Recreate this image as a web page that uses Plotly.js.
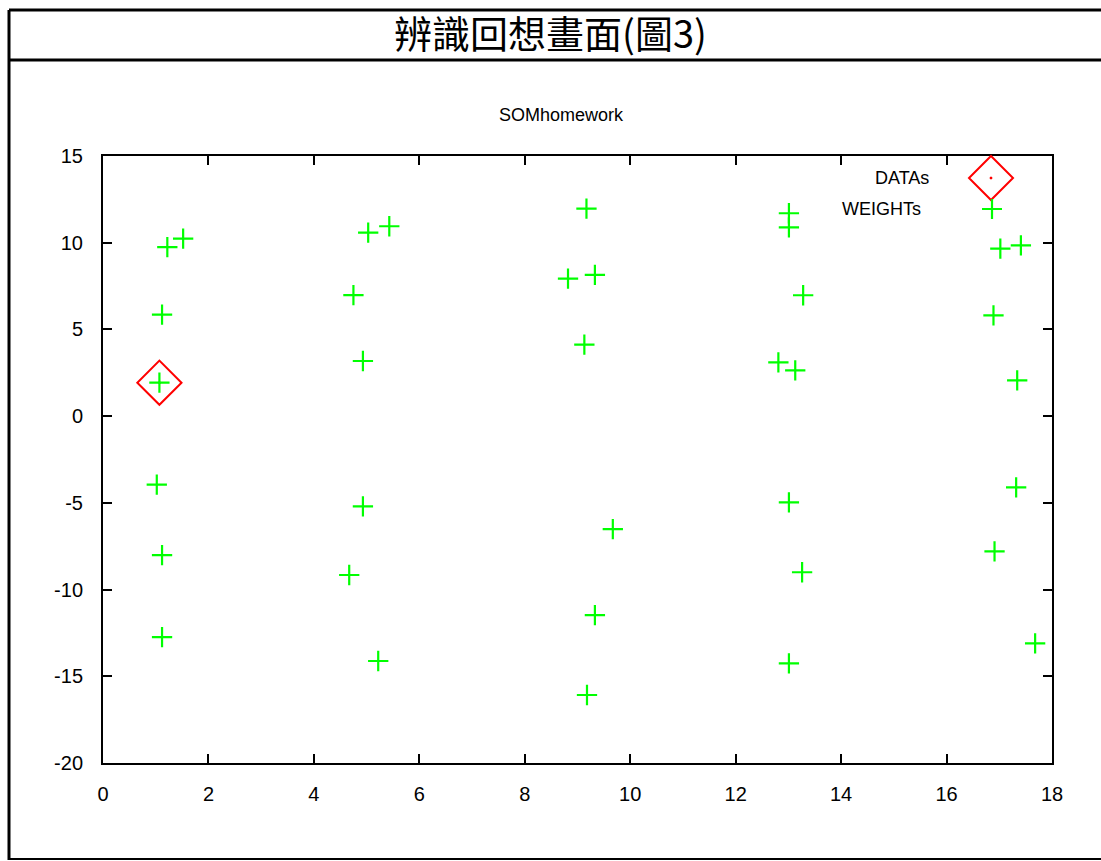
<!DOCTYPE html>
<html>
<head>
<meta charset="utf-8">
<script src="https://cdn.plot.ly/plotly-3.0.1.min.js"></script>
<style>
html,body{margin:0;padding:0;background:#fff;}
#chart{width:1101px;height:861px;}
</style>
</head>
<body>
<div id="chart"></div>
<script>
// Data
const chartTitle = '辨識回想畫面(圖3)';
const plotTitle = 'SOMhomework';
const dataName = 'DATAs';
const weightName = 'WEIGHTs';

const dataX = [1.07];
const dataY = [1.93];

const weightX = [1.22, 1.52, 1.12, 1.07, 1.02, 1.12, 1.12,
                 5.03, 5.43, 4.75, 4.93, 4.93, 4.67, 5.22,
                 9.17, 8.82, 9.33, 9.13, 9.67, 9.33, 9.18,
                 13.01, 13.01, 13.28, 12.81, 13.13, 13.01, 13.26, 13.01,
                 17.02, 17.41, 16.89, 17.34, 17.32, 16.91, 17.68];
const weightY = [9.75, 10.24, 5.85, 1.93, -3.95, -8.01, -12.74,
                 10.58, 10.95, 6.98, 3.18, -5.2, -9.16, -14.12,
                 11.97, 7.93, 8.14, 4.12, -6.51, -11.47, -16.08,
                 11.7, 10.89, 6.97, 3.1, 2.64, -4.97, -9.0, -14.25,
                 9.66, 9.85, 5.81, 2.06, -4.11, -7.8, -13.1];

const xTicks = [0, 2, 4, 6, 8, 10, 12, 14, 16, 18];
const yTicks = [-20, -15, -10, -5, 0, 5, 10, 15];

const RED = '#ff0000';
const GREEN = '#00ff00';

const traces = [
  {
    x: dataX, y: dataY, name: dataName, type: 'scatter', mode: 'markers',
    marker: {symbol: 'diamond-open-dot', size: 34, color: RED, line: {color: RED, width: 2}},
    showlegend: false
  },
  {
    x: weightX, y: weightY, name: weightName, type: 'scatter', mode: 'markers',
    marker: {symbol: 'cross-thin', size: 14.5, color: GREEN, line: {color: GREEN, width: 2.2}},
    showlegend: false
  }
];

const W = 1101, H = 861;
const L = 103, R = 1052, T = 156, B = 763;
const px = v => (v - L) / (R - L);
const py = v => (B - v) / (B - T);

const axisCommon = {
  showline: true, linecolor: '#000', linewidth: 2,
  mirror: 'ticks', ticks: 'inside', ticklen: 9, tickwidth: 2, tickcolor: '#000',
  showgrid: false, zeroline: false,
  tickfont: {family: 'Liberation Sans, Arial, sans-serif', size: 20, color: '#000'}
};

const layout = {
  width: W, height: H,
  margin: {l: L, r: W - R, t: T, b: H - B, pad: 0},
  paper_bgcolor: '#fff', plot_bgcolor: '#fff',
  showlegend: false,
  title: {
    text: chartTitle,
    font: {family: 'Noto Sans CJK TC, sans-serif', size: 38, color: '#000'},
    x: 0.5, xref: 'container', xanchor: 'center',
    y: 1 - 35 / H, yref: 'container', yanchor: 'middle'
  },
  xaxis: Object.assign({}, axisCommon, {
    range: [0, 18], tickvals: xTicks, ticktext: xTicks.map(String), ticklabelstandoff: 12
  }),
  yaxis: Object.assign({}, axisCommon, {
    range: [-20, 15], tickvals: yTicks, ticktext: yTicks.map(String), ticklabelstandoff: 14
  }),
  annotations: [
    {text: plotTitle, xref: 'paper', yref: 'paper', x: px(561), y: py(115),
     xanchor: 'center', yanchor: 'middle', showarrow: false,
     font: {family: 'Liberation Sans, Arial, sans-serif', size: 18, color: '#000'}},
    {text: dataName, xref: 'paper', yref: 'paper', x: px(931), y: py(178),
     xanchor: 'right', yanchor: 'middle', showarrow: false,
     font: {family: 'Liberation Sans, Arial, sans-serif', size: 18, color: '#000'}},
    {text: weightName, xref: 'paper', yref: 'paper', x: px(923), y: py(209),
     xanchor: 'right', yanchor: 'middle', showarrow: false,
     font: {family: 'Liberation Sans, Arial, sans-serif', size: 18, color: '#000'}}
  ],
  shapes: [
    // outer frame
    {type: 'line', xref: 'paper', yref: 'paper', x0: px(9), x1: px(1105), y0: py(10), y1: py(10), line: {color: '#000', width: 3}},
    {type: 'line', xref: 'paper', yref: 'paper', x0: px(9), x1: px(1105), y0: py(60), y1: py(60), line: {color: '#000', width: 3}},
    {type: 'line', xref: 'paper', yref: 'paper', x0: px(9), x1: px(1105), y0: py(859), y1: py(859), line: {color: '#000', width: 2}},
    {type: 'line', xref: 'paper', yref: 'paper', x0: px(9), x1: px(9), y0: py(10), y1: py(860), line: {color: '#000', width: 3}},
    // legend samples
    {type: 'path', xref: 'paper', yref: 'paper', xsizemode: 'pixel', ysizemode: 'pixel',
     xanchor: px(991), yanchor: py(178),
     path: 'M0,22 L22,0 L0,-22 L-22,0 Z', line: {color: RED, width: 2}},
    {type: 'path', xref: 'paper', yref: 'paper', xsizemode: 'pixel', ysizemode: 'pixel',
     xanchor: px(991), yanchor: py(178),
     path: 'M-1,-1 L1,-1 L1,1 L-1,1 Z', fillcolor: RED, line: {color: RED, width: 0.5}},
    {type: 'path', xref: 'paper', yref: 'paper', xsizemode: 'pixel', ysizemode: 'pixel',
     xanchor: px(992), yanchor: py(209),
     path: 'M-10,0 L10,0 M0,-10 L0,10', line: {color: GREEN, width: 2.2}}
  ]
};

Plotly.newPlot('chart', traces, layout, {displayModeBar: false, staticPlot: true});
</script>
</body>
</html>
